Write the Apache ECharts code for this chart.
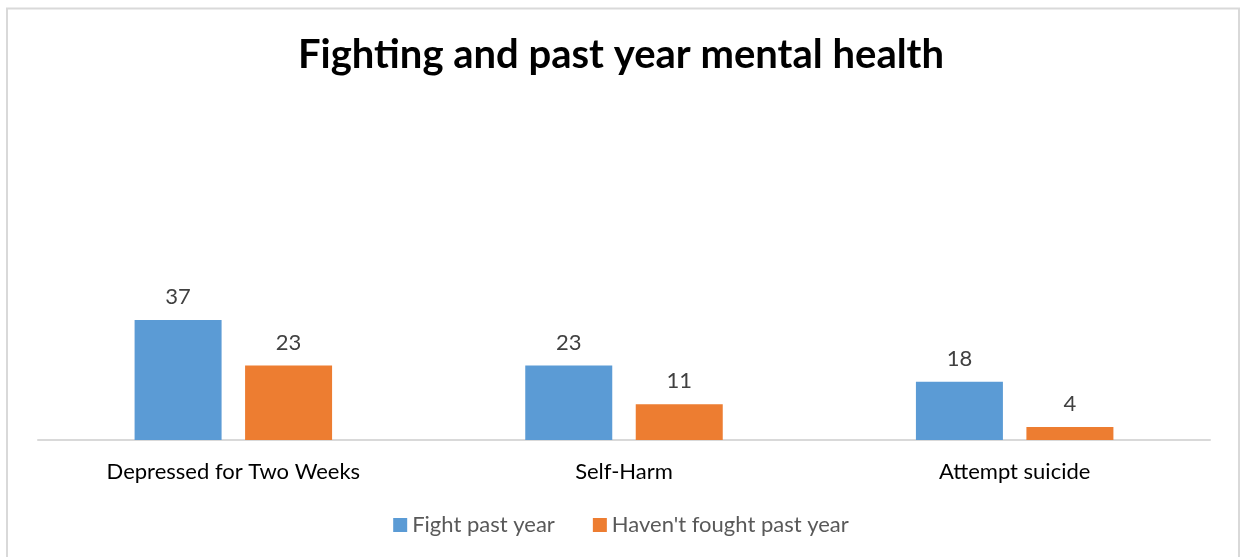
<!DOCTYPE html>
<html>
<head>
<meta charset="utf-8">
<script src="https://cdn.jsdelivr.net/npm/echarts@6/dist/echarts.min.js"></script>
<style>
  html, body { margin: 0; padding: 0; background: #fff; }
  #chart { width: 1242px; height: 557px; }
</style>
</head>
<body>
<div id="chart"></div>
<script>
const categories = ["Depressed for Two Weeks", "Self-Harm", "Attempt suicide"];
const seriesNames = ["Fight past year", "Haven't fought past year"];
const fightValues = [37, 23, 18];
const notFoughtValues = [23, 11, 4];

const FONT = "Lato, 'Open Sans', sans-serif";

const chart = echarts.init(document.getElementById("chart"), null, { renderer: "canvas" });

const label = {
  show: true,
  position: "top",
  distance: 12,
  color: "#404040",
  fontSize: 22,
  fontFamily: FONT,
};

chart.setOption({
  backgroundColor: "#fff",
  animation: false,
  graphic: [
    {
      type: "rect",
      shape: { x: 7, y: 8.5, width: 1232, height: 560 },
      style: { fill: "none", stroke: "#d9d9d9", lineWidth: 2 },
      silent: true,
    },
  ],
  title: {
    text: "Fighting and past year mental health",
    left: "center",
    top: 30,
    textStyle: { fontSize: 40, fontWeight: "bold", color: "#000", fontFamily: FONT },
  },
  legend: {
    data: seriesNames,
    bottom: 16,
    left: "center",
    icon: "rect",
    itemWidth: 14,
    itemHeight: 14,
    itemGap: 38,
    textStyle: { color: "#595959", fontSize: 22, fontFamily: FONT },
  },
  grid: { left: 38, right: 32, top: 116, bottom: 117 },
  xAxis: {
    type: "category",
    data: categories,
    axisTick: { show: false },
    axisLine: { lineStyle: { color: "#d9d9d9", width: 2 } },
    axisLabel: { color: "#000", fontSize: 22, fontFamily: FONT, margin: 21 },
  },
  yAxis: {
    type: "value",
    min: 0,
    max: 100,
    show: false,
    splitLine: { show: false },
  },
  series: [
    {
      name: seriesNames[0],
      type: "bar",
      data: fightValues,
      barWidth: 87,
      barGap: "27%",
      itemStyle: { color: "#5b9bd5" },
      label,
    },
    {
      name: seriesNames[1],
      type: "bar",
      data: notFoughtValues,
      barWidth: 87,
      itemStyle: { color: "#ed7d31" },
      label,
    },
  ],
});
</script>
</body>
</html>
